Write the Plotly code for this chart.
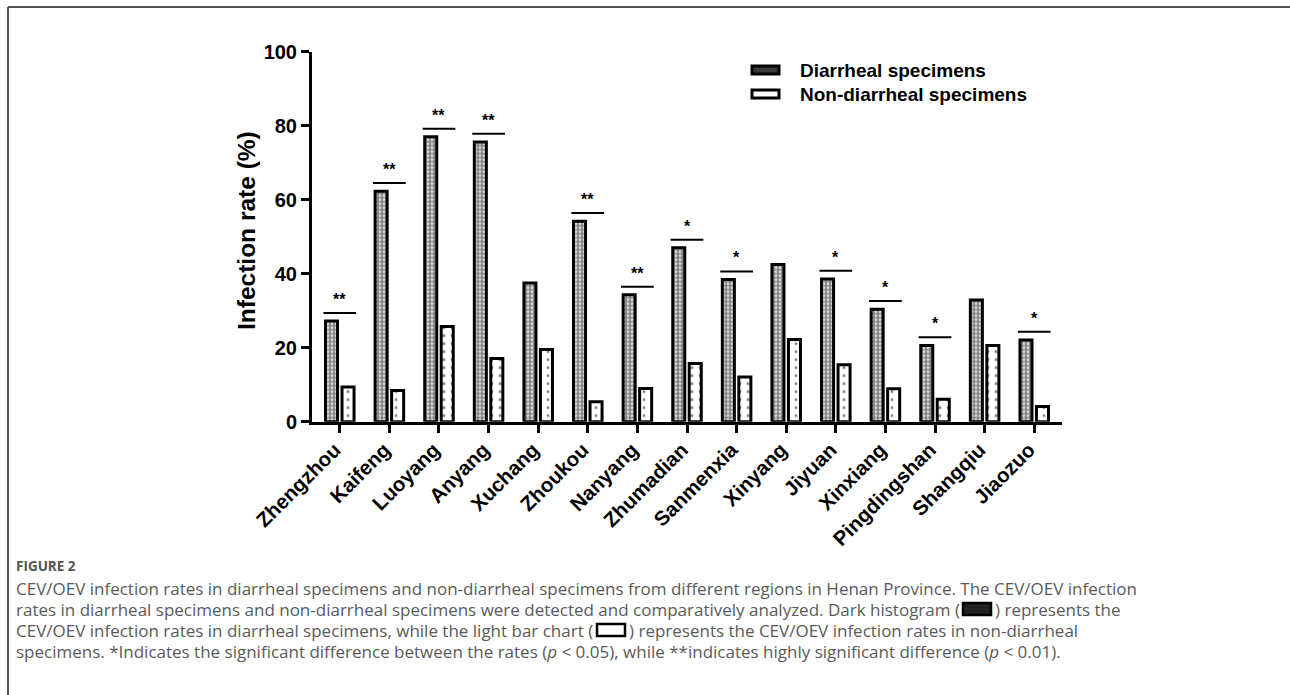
import plotly.graph_objects as go

# Infection rates (%) by region in Henan Province
regions = ["Zhengzhou", "Kaifeng", "Luoyang", "Anyang", "Xuchang", "Zhoukou", "Nanyang",
           "Zhumadian", "Sanmenxia", "Xinyang", "Jiyuan", "Xinxiang", "Pingdingshan",
           "Shangqiu", "Jiaozuo"]
diarrheal = [27.2, 62.3, 77.0, 75.6, 37.5, 54.2, 34.3, 47.0, 38.4, 42.5, 38.6, 30.4, 20.6, 32.9, 22.1]
non_diarrheal = [9.4, 8.4, 25.7, 17.1, 19.5, 5.4, 9.0, 15.7, 12.1, 22.2, 15.4, 8.9, 6.1, 20.6, 4.1]
significance = ["**", "**", "**", "**", "", "**", "**", "*", "*", "", "*", "*", "*", "", "*"]
y_ticks = [0, 20, 40, 60, 80, 100]

W, H = 1290, 695
BOLD = dict(family="Arial, Liberation Sans, sans-serif", color="black", weight="bold")
CAPTION_FONT = dict(family="Open Sans, sans-serif", size=17, color="#5a5a5a")


def px_x(x):
    return x / W


def px_y(y):
    return 1 - y / H


fig = go.Figure()
fig.add_trace(go.Bar(
    x=regions, y=diarrheal, name="Diarrheal specimens",
    marker=dict(color="white", line=dict(color="black", width=3),
                pattern=dict(shape=".", fgcolor="black", bgcolor="white", size=4, solidity=0.7)),
    showlegend=False,
))
fig.add_trace(go.Bar(
    x=regions, y=non_diarrheal, name="Non-diarrheal specimens",
    marker=dict(color="white", line=dict(color="black", width=3),
                pattern=dict(shape=".", fgcolor="black", bgcolor="white", size=8, solidity=0.1)),
    showlegend=False,
))

shapes = []
annotations = []

# significance brackets and stars
for i, (d, s) in enumerate(zip(diarrheal, significance)):
    if not s:
        continue
    y_line = d + 2.2
    shapes.append(dict(type="line", xref="x", yref="y", x0=i - 0.33, x1=i + 0.33,
                       y0=y_line, y1=y_line, line=dict(color="black", width=2)))
    annotations.append(dict(x=i, y=y_line, xref="x", yref="y", text=s, showarrow=False,
                            yanchor="bottom", yshift=3, font=dict(BOLD, size=16)))

# legend
legend_rows = [("Diarrheal specimens", 70, "#3a3a3a"), ("Non-diarrheal specimens", 94, "white")]
for label, yc, fill in legend_rows:
    shapes.append(dict(type="rect", xref="paper", yref="paper",
                       x0=px_x(752), x1=px_x(779), y0=px_y(yc - 4), y1=px_y(yc + 4),
                       fillcolor=fill, line=dict(color="black", width=3)))
    annotations.append(dict(x=px_x(798), y=px_y(yc), xref="paper", yref="paper", text=label,
                            showarrow=False, xanchor="left", yanchor="middle",
                            font=dict(BOLD, size=19)))

# y axis title
annotations.append(dict(x=px_x(246), y=px_y(231), xref="paper", yref="paper",
                        text="Infection rate (%)", textangle=-90, showarrow=False,
                        xanchor="center", yanchor="middle", font=dict(BOLD, size=24.5)))

# outer frame
shapes.append(dict(type="line", xref="paper", yref="paper", x0=px_x(8), x1=1,
                   y0=px_y(7), y1=px_y(7), line=dict(color="#555555", width=2)))
shapes.append(dict(type="line", xref="paper", yref="paper", x0=px_x(8), x1=px_x(8),
                   y0=px_y(7), y1=0, line=dict(color="#555555", width=2)))

# caption
annotations.append(dict(x=px_x(14), y=px_y(566), xref="paper", yref="paper", text="FIGURE 2",
                        showarrow=False, xanchor="left", yanchor="middle",
                        font=dict(family="Open Sans, sans-serif", size=13.5,
                                  color="#555555", weight="bold")))

caption_lines = [
    (588, "CEV/OEV infection rates in diarrheal specimens and non-diarrheal specimens from different "
          "regions in Henan Province. The CEV/OEV infection", None, None),
    (609, "rates in diarrheal specimens and non-diarrheal specimens were detected and comparatively "
          "analyzed. Dark histogram (", (962, 992, "#222222"), ") represents the"),
    (630, "CEV/OEV infection rates in diarrheal specimens, while the light bar chart (",
     (596, 626, "white"), ") represents the CEV/OEV infection rates in non-diarrheal"),
    (651, "specimens. *Indicates the significant difference between the rates (<i>p</i> &lt; 0.05), "
          "while **indicates highly significant difference (<i>p</i> &lt; 0.01).", None, None),
]
for yc, left_text, icon, right_text in caption_lines:
    annotations.append(dict(x=px_x(14), y=px_y(yc), xref="paper", yref="paper",
                            text=left_text, showarrow=False, xanchor="left",
                            yanchor="middle", font=CAPTION_FONT))
    if icon:
        x0, x1, fill = icon
        shapes.append(dict(type="rect", xref="paper", yref="paper",
                           x0=px_x(x0 + 1), x1=px_x(x1 - 1), y0=px_y(yc + 6), y1=px_y(yc - 6),
                           fillcolor=fill, line=dict(color="black", width=2.5)))
        annotations.append(dict(x=px_x(x1 + 1), y=px_y(yc), xref="paper", yref="paper",
                                text=right_text, showarrow=False, xanchor="left",
                                yanchor="middle", font=CAPTION_FONT))

fig.update_layout(
    width=W, height=H,
    margin=dict(l=0, r=0, t=0, b=0),
    paper_bgcolor="white", plot_bgcolor="white",
    barmode="group", bargap=0.335, bargroupgap=0.27,
    shapes=shapes, annotations=annotations,
    xaxis=dict(domain=[px_x(312), px_x(1062)], range=[-0.56, 14.56], type="category",
               showline=True, linecolor="black", linewidth=3, showgrid=False, zeroline=False,
               ticks="outside", ticklen=8, tickwidth=3, tickcolor="black",
               tickangle=-45, tickfont=dict(BOLD, size=20.5), automargin=False,
               ticklabelshift=-5, ticklabelstandoff=-3),
    yaxis=dict(domain=[px_y(421.7), px_y(51.7)], range=[0, 100], tickvals=y_ticks,
               showline=True, linecolor="black", linewidth=3, showgrid=False, zeroline=False,
               ticks="outside", ticklen=8, tickwidth=3, tickcolor="black",
               tickfont=dict(BOLD, size=20), automargin=False),
)

fig.write_html("out.html")
